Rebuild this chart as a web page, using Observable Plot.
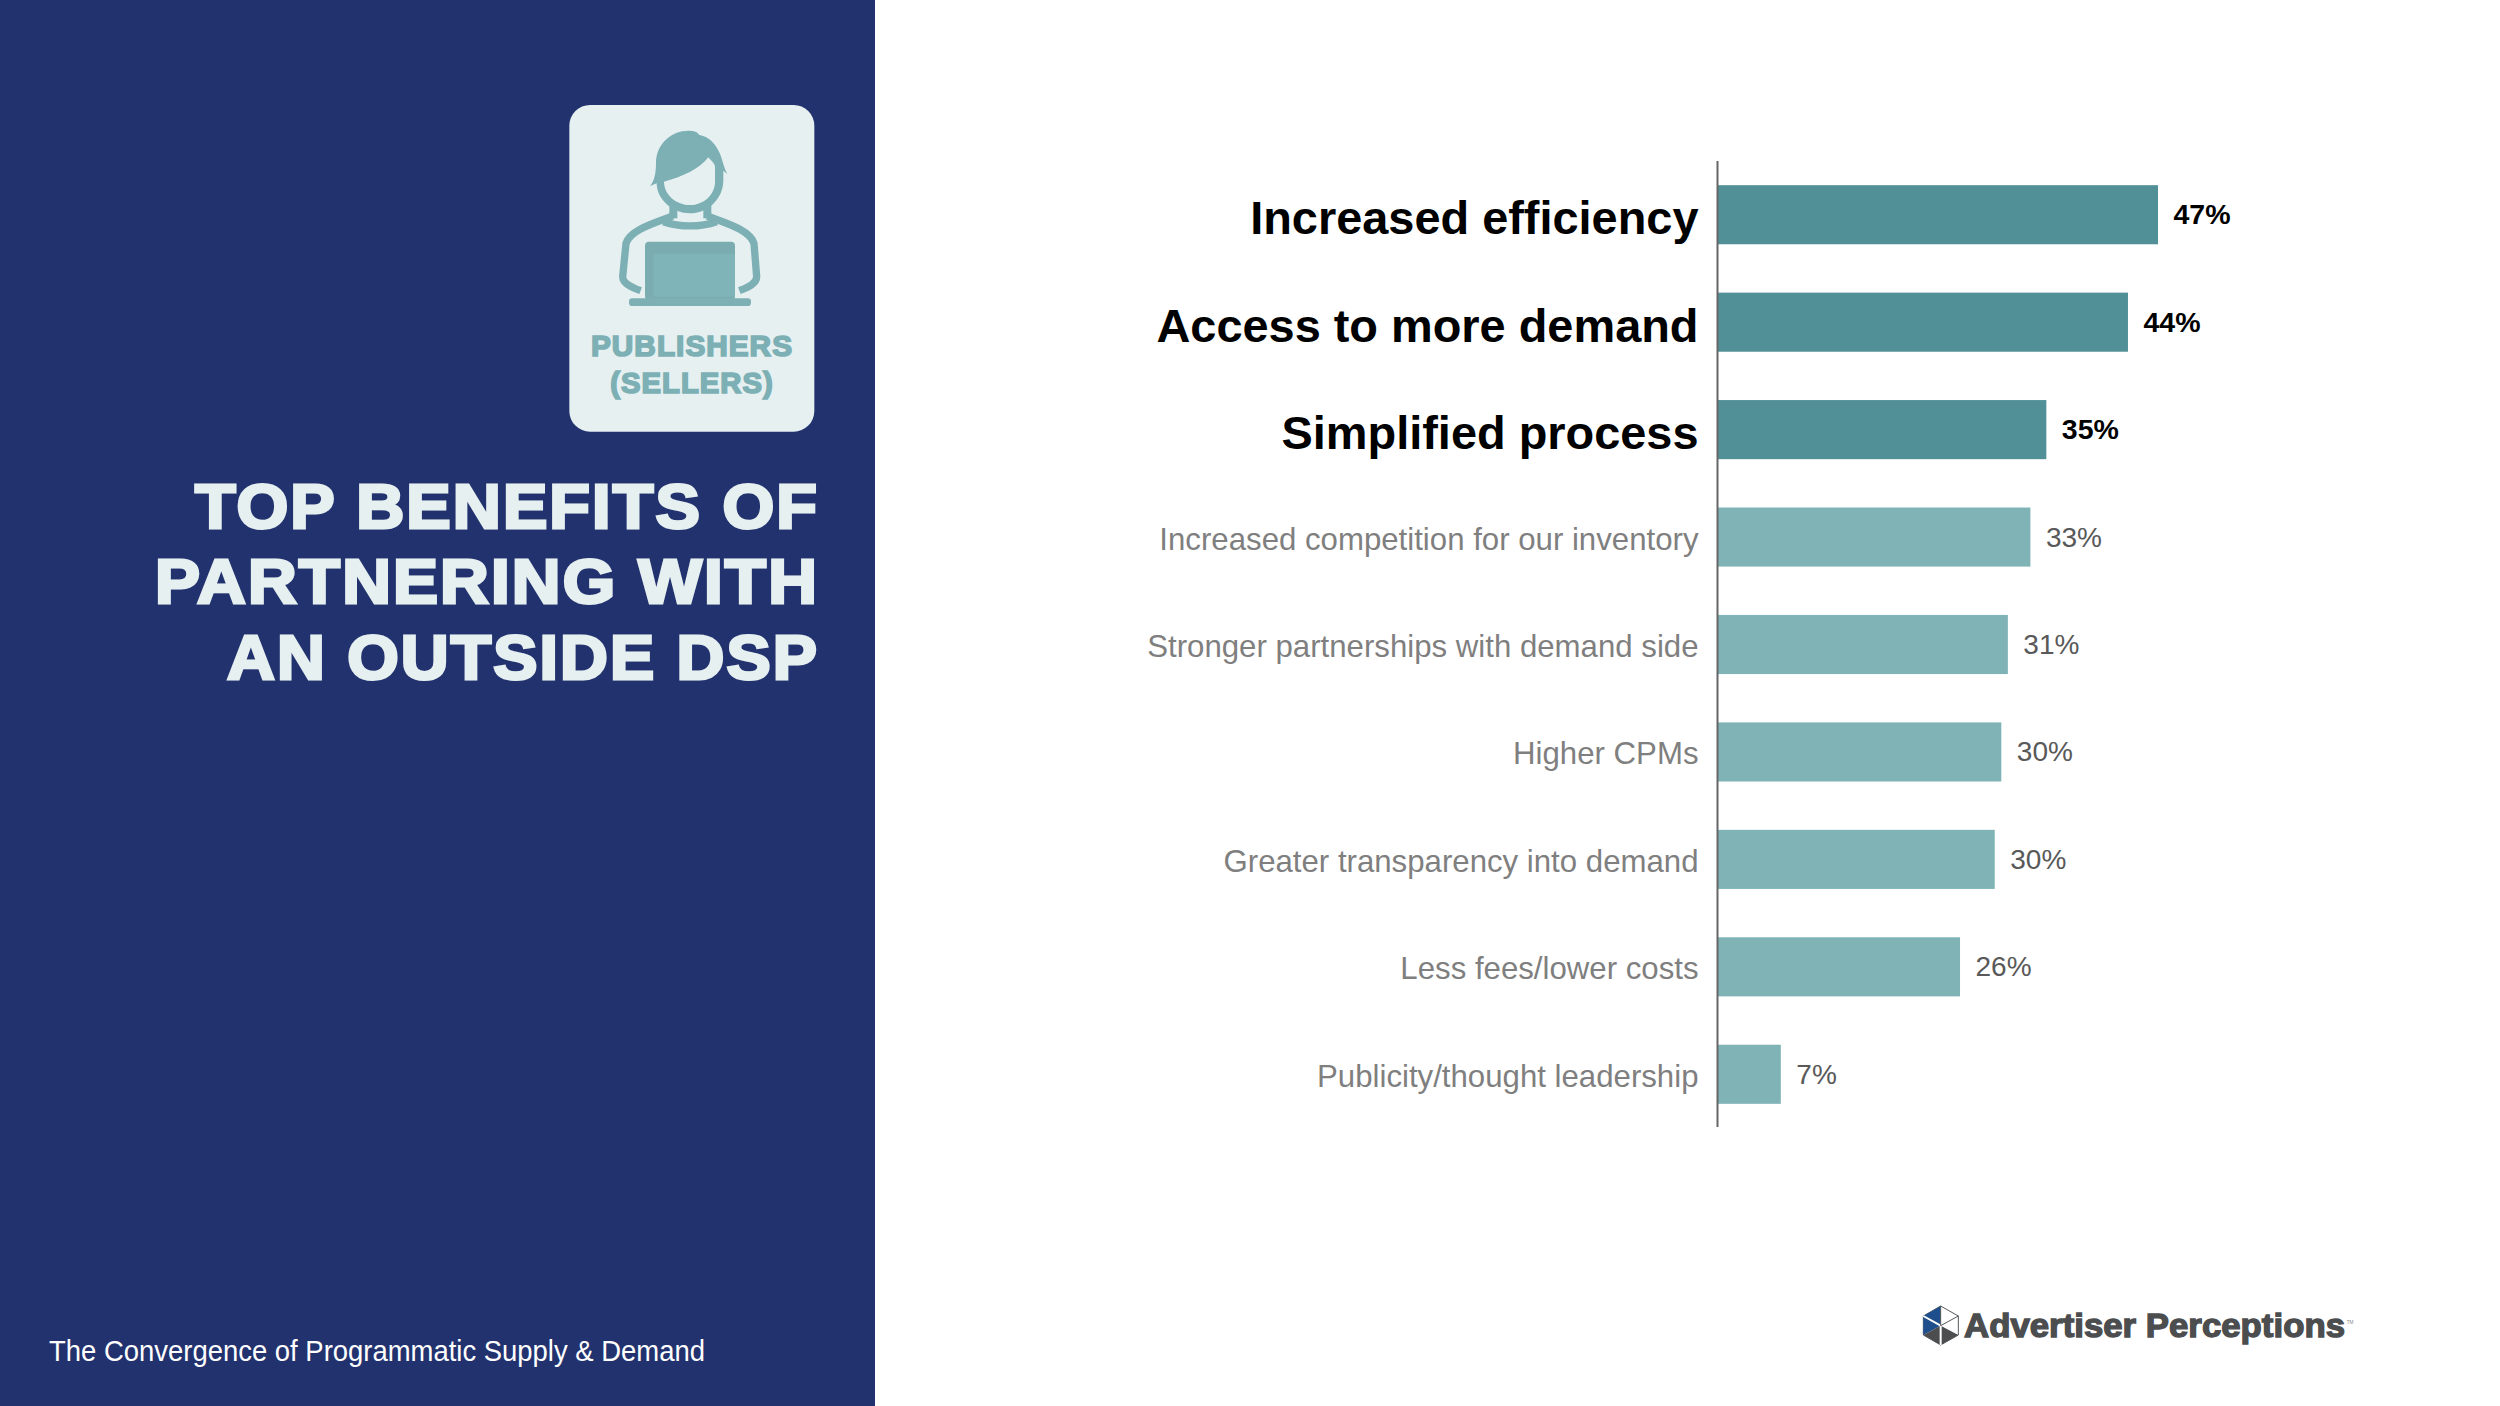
<!DOCTYPE html>
<html>
<head>
<meta charset="utf-8">
<script src="https://cdn.jsdelivr.net/npm/d3@7"></script>
<script src="https://cdn.jsdelivr.net/npm/@observablehq/plot@0.6"></script>
<style>
html,body{margin:0;padding:0;background:#fff;width:2500px;height:1406px;overflow:hidden;font-family:"Liberation Sans",Arial,sans-serif}
#panel{position:absolute;left:0;top:0;width:875px;height:1406px;background:#22326e}
#chart{position:absolute;left:0;top:0;width:2500px;height:1406px}
.ov{position:absolute;left:0;top:0}
</style>
</head>
<body>
<div id="panel"></div>
<div id="chart"></div>
<svg class="ov" width="875" height="1406" viewBox="0 0 875 1406">
  <g font-family="Liberation Sans" font-weight="700" fill="#e6f0f1" stroke="#e6f0f1" stroke-width="3" text-anchor="end" font-size="63" letter-spacing="2">
    <text x="819" y="528" textLength="624" lengthAdjust="spacingAndGlyphs">TOP BENEFITS OF</text>
    <text x="819" y="603" textLength="664" lengthAdjust="spacingAndGlyphs">PARTNERING WITH</text>
    <text x="819" y="679" textLength="592" lengthAdjust="spacingAndGlyphs">AN OUTSIDE DSP</text>
  </g>
  <text x="49" y="1361" font-family="Liberation Sans" font-size="29" fill="#ffffff" textLength="656" lengthAdjust="spacingAndGlyphs">The Convergence of Programmatic Supply &amp; Demand</text>
</svg>
<svg class="ov" style="left:540px;top:80px" width="320" height="370" viewBox="0 0 960 1110">
  <rect x="88" y="75" width="735" height="980" rx="62" fill="#e6f0f1"/>
  <g fill="#7db0b4">
    <path d="M330,318 C345,300 348,275 348,245 C350,190 395,152 445,152 C462,152 472,155 478,165 C515,170 540,210 548,245 C552,260 556,270 562,282 L550,272 L550,300 C550,360 500,400 450,400 C400,400 350,360 350,310 Z"/>
    <path d="M372,305 C430,290 480,265 505,232 C515,245 525,250 525,262 L525,305 C525,345 490,375 450,375 C410,375 372,345 372,305 Z" fill="#e6f0f1"/>
    <rect x="388" y="375" width="24" height="40"/>
    <rect x="490" y="375" width="24" height="40"/>
    <rect x="315" y="485" width="270" height="175" rx="12" fill="#7bacb0"/>
    <rect x="340" y="522" width="245" height="128" fill="#7fb5b8"/>
    <rect x="267" y="655" width="366" height="23" rx="10"/>
  </g>
  <g fill="none" stroke="#7db0b4" stroke-width="22">
    <path d="M370,425 C420,442 480,442 530,425"/>
    <path d="M398,408 C340,430 270,450 258,490 L248,590 C248,610 275,622 302,632"/>
    <path d="M502,408 C560,430 630,450 642,490 L650,590 C650,610 625,622 598,632"/>
  </g>
  <g font-family="Liberation Sans" font-weight="700" fill="#7db0b4" stroke="#7db0b4" stroke-width="5" text-anchor="middle" font-size="86" letter-spacing="3">
    <text x="456" y="828" textLength="606" lengthAdjust="spacingAndGlyphs">PUBLISHERS</text>
    <text x="456" y="938" textLength="490" lengthAdjust="spacingAndGlyphs">(SELLERS)</text>
  </g>
</svg>
<svg class="ov" style="left:1900px;top:1280px" width="480" height="80" viewBox="0 0 1440 240">
  <polygon points="122,78 175,108 175,165 122,195 70,165 70,108" fill="#fff" stroke="#55585b" stroke-width="3"/>
  <polygon points="122,78 70,108 70,165 122,137" fill="#1f4e8c"/>
  <polygon points="70,165 122,195 175,165 122,137" fill="#4b4d4f"/>
  <path d="M70,108 L122,137 M122,137 L122,195" stroke="#fff" stroke-width="6"/>
  <path d="M122,78 L122,137 L175,108" fill="none" stroke="#55585b" stroke-width="3"/>
  <text x="192" y="171" font-family="Liberation Sans" font-weight="700" font-size="100" fill="#4b4d4f" stroke="#4b4d4f" stroke-width="4" textLength="1143" lengthAdjust="spacingAndGlyphs">Advertiser Perceptions</text>
  <text x="1340" y="132" font-family="Liberation Sans" font-size="14" fill="#888">TM</text>
</svg>
<script>
const categories = [
  "Increased efficiency",
  "Access to more demand",
  "Simplified process",
  "Increased competition for our inventory",
  "Stronger partnerships with demand side",
  "Higher CPMs",
  "Greater transparency into demand",
  "Less fees/lower costs",
  "Publicity/thought leadership"
];
const values = [47, 43.8, 35.1, 33.4, 31, 30.3, 29.6, 25.9, 6.8];
const emphasized = [true, true, true, false, false, false, false, false, false];

const rows = categories.map((label, i) => ({label, value: values[i], top: emphasized[i]}));
const topRows = rows.filter(d => d.top);
const restRows = rows.filter(d => !d.top);
const pct = d => `${Math.round(d.value)}%`;

const fig = Plot.plot({
  width: 2500,
  height: 1406,
  marginTop: 161, marginBottom: 279, marginLeft: 0, marginRight: 0,
  style: {background: "transparent", fontFamily: "Liberation Sans"},
  x: {domain: [0, 47], range: [1717, 2158], axis: null},
  y: {domain: categories, range: [161, 1128], paddingInner: 0.45, paddingOuter: 0.225, axis: null, round: false},
  marks: [
    Plot.barX(topRows, {x: "value", y: "label", fill: "#519097"}),
    Plot.barX(restRows, {x: "value", y: "label", fill: "#7fb3b5"}),
    Plot.ruleX([0], {stroke: "#666666", strokeWidth: 2}),
    Plot.text(topRows, {x: 0, y: "label", text: "label", textAnchor: "end", dx: -19, dy: 4, fontSize: 46.9, fontWeight: 700, fill: "#000"}),
    Plot.text(restRows, {x: 0, y: "label", text: "label", textAnchor: "end", dx: -19, dy: 2, fontSize: 31.2, fill: "#7f7f7f"}),
    Plot.text(topRows, {x: "value", y: "label", text: pct, textAnchor: "start", dx: 15, fontSize: 28.5, fontWeight: 700, fill: "#000"}),
    Plot.text(restRows, {x: "value", y: "label", text: pct, textAnchor: "start", dx: 15, fontSize: 28, fill: "#595959"})
  ]
});
document.getElementById("chart").appendChild(fig);
</script>
</body>
</html>
